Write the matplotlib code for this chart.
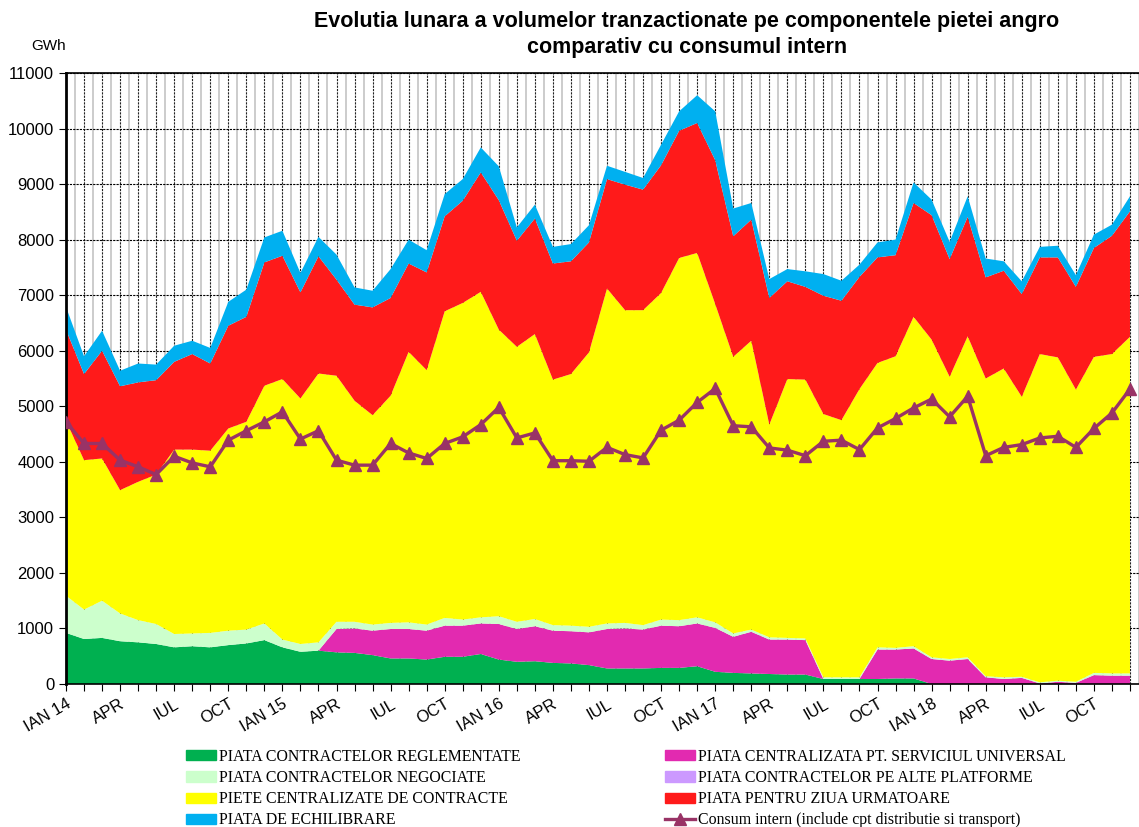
import matplotlib
matplotlib.use("Agg")
import matplotlib.pyplot as plt
import numpy as np
from matplotlib.lines import Line2D
from matplotlib.patches import Patch

# monthly volumes, GWh (IAN 2014 - DEC 2018)
reglementate = [920, 810, 830, 770, 750, 720, 660, 680, 660, 700,
                730, 790, 660, 580, 600, 570, 560, 520, 460, 460,
                440, 490, 490, 540, 440, 400, 410, 380, 370, 340,
                280, 280, 280, 290, 290, 320, 220, 200, 190, 180,
                170, 170, 90, 90, 90, 90, 100, 100, 0, 0,
                0, 0, 0, 0, 0, 0, 0, 0, 0, 0]
serviciu_universal = [0] * 15 + [420, 440, 440, 530, 530,
                                 520, 560, 560, 550, 640, 590, 630, 580, 580, 590,
                                 710, 720, 700, 760, 750, 770, 790, 650, 750, 620,
                                 630, 620, 0, 0, 0, 530, 520, 540, 450, 420,
                                 450, 120, 90, 110, 10, 40, 20, 160, 150, 150]
negociate = [670, 530, 670, 500, 400, 360, 240, 230, 260, 260,
             250, 300, 140, 140, 150, 130, 120, 110, 110, 120,
             110, 140, 110, 110, 140, 130, 130, 100, 100, 100,
             100, 100, 80, 110, 110, 110, 100, 60, 40, 40,
             30, 30, 30, 30, 30, 40, 30, 40, 30, 30,
             30, 20, 30, 20, 20, 20, 20, 40, 40, 40]
alte_platforme = [0] * 60
centralizate = [3150, 2690, 2560, 2220, 2490, 2690, 3320, 3310, 3280, 3640,
                3740, 4280, 4690, 4420, 4840, 4430, 3980, 3770, 4090, 4870,
                4580, 5520, 5700, 5860, 5160, 4950, 5130, 4420, 4530, 4940,
                6030, 5630, 5670, 5880, 6520, 6560, 5730, 4980, 5200, 3830,
                4660, 4660, 4740, 4630, 5190, 5120, 5250, 5930, 5720, 5080,
                5780, 5360, 5560, 5040, 5910, 5820, 5260, 5690, 5750, 6060]
pzu = [1640, 1550, 1940, 1870, 1790, 1700, 1580, 1720, 1570, 1850,
       1890, 2220, 2220, 1910, 2110, 1730, 1730, 1940, 1760, 1590,
       1760, 1710, 1840, 2150, 2330, 1910, 2080, 2090, 2030, 1980,
       1970, 2260, 2170, 2300, 2290, 2340, 2590, 2170, 2180, 2280,
       1760, 1670, 2130, 2150, 2020, 1900, 1820, 2050, 2240, 2120,
       2150, 1820, 1760, 1850, 1740, 1800, 1850, 1960, 2130, 2260]
echilibrare = [410, 320, 360, 280, 340, 280, 290, 240, 280, 430,
               490, 450, 450, 350, 350, 450, 310, 300, 520, 430,
               400, 400, 390, 450, 610, 240, 250, 300, 310, 310,
               240, 230, 210, 370, 350, 500, 880, 500, 300, 340,
               220, 280, 390, 360, 220, 270, 280, 370, 280, 310,
               370, 340, 170, 230, 190, 210, 210, 240, 200, 270]
consum = [4720, 4330, 4330, 4030, 3910, 3770, 4100, 3980, 3910, 4390,
          4560, 4720, 4900, 4410, 4560, 4030, 3940, 3940, 4330, 4160,
          4060, 4330, 4450, 4670, 4980, 4430, 4520, 4020, 4020, 4010,
          4260, 4130, 4070, 4570, 4750, 5070, 5320, 4650, 4630, 4250,
          4210, 4110, 4370, 4390, 4220, 4610, 4780, 4970, 5130, 4810,
          5180, 4110, 4260, 4310, 4430, 4460, 4260, 4600, 4880, 5310]

quarter_labels = ["IAN 14", "APR", "IUL", "OCT",
                  "IAN 15", "APR", "IUL", "OCT",
                  "IAN 16", "APR", "IUL", "OCT",
                  "IAN 17", "APR", "IUL", "OCT",
                  "IAN 18", "APR", "IUL", "OCT"]

c_regl = "#00B050"
c_neg = "#CCFFCC"
c_cent = "#FFFF00"
c_echil = "#00B0F0"
c_su = "#E22AB0"
c_alte = "#CC99FF"
c_pzu = "#FF1A1A"
c_consum = "#993366"

fig = plt.figure(figsize=(11.39, 8.27), dpi=100)
ax = fig.add_axes([66 / 1139, 1 - 684 / 827, 1 - 66 / 1139, 611 / 827])

x = np.arange(len(consum))
ax.stackplot(x, reglementate, serviciu_universal, negociate, alte_platforme,
             centralizate, pzu, echilibrare,
             colors=[c_regl, c_su, c_neg, c_alte, c_cent, c_pzu, c_echil],
             linewidth=0)
ax.plot(x, consum, color=c_consum, lw=2.4, marker="^", ms=9, zorder=5)

ax.set_xlim(0, (1139 - 66) / 18.3)
ax.set_ylim(0, 11000)
ax.set_yticks(np.arange(0, 11001, 1000))

ax.set_xticks(x)
labels = [""] * len(x)
for k, lab in enumerate(quarter_labels):
    labels[3 * k] = lab
ax.set_xticklabels(labels, rotation=30, ha="right", rotation_mode="anchor",
                   fontsize=12, family="Liberation Sans")
ax.set_xticks(x + 0.5, minor=True)
ax.tick_params(axis="x", which="major", length=5, direction="out", pad=4)
ax.tick_params(axis="x", which="minor", length=0)
ax.tick_params(axis="y", length=5, direction="out", labelsize=12)
for t in ax.get_yticklabels():
    t.set_family("Liberation Sans")

ax.set_axisbelow(True)
ax.grid(axis="y", which="major", color="black", lw=0.8, ls=(0, (2, 1)))
ax.grid(axis="x", which="major", color="#222222", lw=0.8, ls=(0, (2, 1)))
ax.grid(axis="x", which="minor", color="#c8c8c8", lw=1.3)

ax.spines["right"].set_visible(False)
ax.spines["left"].set_linewidth(2)
ax.spines["bottom"].set_linewidth(1.2)
ax.spines["top"].set_linewidth(1.2)

fig.text(0.603, 1 - 22 / 827, "Evolutia lunara a volumelor tranzactionate pe componentele pietei angro",
         ha="center", va="center", fontsize=15.5, fontweight="bold", family="Liberation Sans")
fig.text(0.603, 1 - 47 / 827, "comparativ cu consumul intern",
         ha="center", va="center", fontsize=15.5, fontweight="bold", family="Liberation Sans")
fig.text(49 / 1139, 1 - 46 / 827, "GWh", ha="center", va="center",
         fontsize=11, family="Liberation Sans")

left_handles = [Patch(color=c_regl), Patch(color=c_neg), Patch(color=c_cent), Patch(color=c_echil)]
left_labels = ["PIATA CONTRACTELOR REGLEMENTATE", "PIATA CONTRACTELOR NEGOCIATE",
               "PIETE CENTRALIZATE DE CONTRACTE", "PIATA DE ECHILIBRARE"]
right_handles = [Patch(color=c_su), Patch(color=c_alte), Patch(color=c_pzu),
                 Line2D([], [], color=c_consum, lw=2.4, marker="^", ms=9)]
right_labels = ["PIATA CENTRALIZATA PT. SERVICIUL UNIVERSAL", "PIATA CONTRACTELOR PE ALTE PLATFORME",
                "PIATA PENTRU ZIUA URMATOARE", "Consum intern (include cpt distributie si transport)"]

leg_kw = dict(loc="upper left", frameon=False, borderpad=0, borderaxespad=0,
              handlelength=1.9, handleheight=0.6, handletextpad=0.2, labelspacing=0.32,
              prop={"family": "Liberation Serif", "size": 11.4})
fig.legend(left_handles, left_labels, bbox_to_anchor=(186 / 1139, 1 - 749 / 827), **leg_kw)
fig.legend(right_handles, right_labels, bbox_to_anchor=(665 / 1139, 1 - 749 / 827), **leg_kw)

fig.savefig("out.png", dpi=100)
